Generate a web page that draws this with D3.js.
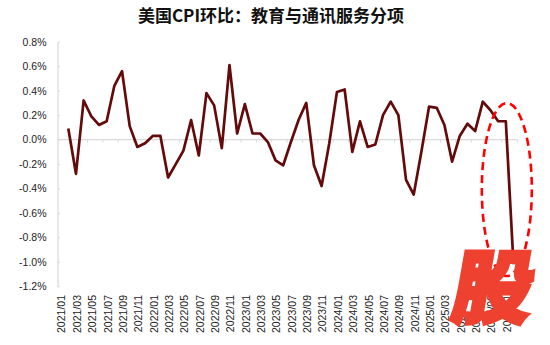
<!DOCTYPE html>
<html>
<head>
<meta charset="utf-8">
<script src="https://cdn.jsdelivr.net/npm/d3@7/dist/d3.min.js"></script>
<style>
  html, body { margin: 0; padding: 0; background: #fff; }
  svg { display: block; }
</style>
</head>
<body>
<svg id="chart" width="550" height="345"></svg>
<script>
// Monthly categories, 2021/01 – 2025/11
const months = [
  "2021/01","2021/02","2021/03","2021/04","2021/05","2021/06","2021/07","2021/08","2021/09","2021/10","2021/11","2021/12",
  "2022/01","2022/02","2022/03","2022/04","2022/05","2022/06","2022/07","2022/08","2022/09","2022/10","2022/11","2022/12",
  "2023/01","2023/02","2023/03","2023/04","2023/05","2023/06","2023/07","2023/08","2023/09","2023/10","2023/11","2023/12",
  "2024/01","2024/02","2024/03","2024/04","2024/05","2024/06","2024/07","2024/08","2024/09","2024/10","2024/11","2024/12",
  "2025/01","2025/02","2025/03","2025/04","2025/05","2025/06","2025/07","2025/08","2025/09","2025/10","2025/11"
];

// Education & communication services CPI, month-over-month change (%)
const momChange = [
   0.09, -0.28,  0.32,  0.19,  0.12,  0.15,  0.44,  0.56,  0.11, -0.06, -0.03,  0.03,
   0.03, -0.31, -0.20, -0.09,  0.16, -0.13,  0.38,  0.28, -0.07,  0.61,  0.05,  0.29,
   0.05,  0.05, -0.02, -0.17, -0.21, -0.02,  0.16,  0.30, -0.21, -0.38, -0.03,  0.39,
   0.41, -0.10,  0.15, -0.06, -0.04,  0.20,  0.31,  0.20, -0.33, -0.45, -0.10,  0.27,
   0.26,  0.12, -0.18,  0.03,  0.13,  0.07,  0.31,  0.24,  0.15,  0.15, -1.02
];

// Axis ticks
const yTicks = [0.8, 0.6, 0.4, 0.2, 0.0, -0.2, -0.4, -0.6, -0.8, -1.0, -1.2];
const xTickLabels = months.filter((m, i) => i % 2 === 0);

const titleText = "美国CPI环比：教育与通讯服务分项";
const badgeText = "股";

const svg = d3.select("#chart");
const latin = "'Liberation Sans', Arial, 'Noto Sans', sans-serif";
const cjk = "'Noto Sans CJK SC', 'Noto Sans', sans-serif";

const x = d3.scalePoint().domain(months).range([68.3, 513.5]);
const step = x.step();
const y = d3.scaleLinear().domain([-1.2, 0.8]).range([286.3, 41.8]);
const axisX = 57.5;

// Title
svg.append("text")
  .attr("x", 271).attr("y", 22)
  .attr("text-anchor", "middle")
  .attr("font-family", cjk)
  .attr("font-weight", "bold")
  .attr("font-size", 17)
  .attr("fill", "#111")
  .text(titleText);

// Y axis
const yAxis = d3.axisLeft(y)
  .tickValues(yTicks)
  .tickFormat(d => d.toFixed(1) + "%")
  .tickSizeInner(-2.5)
  .tickSizeOuter(0)
  .tickPadding(11);

const gy = svg.append("g")
  .attr("transform", `translate(${axisX},0)`)
  .call(yAxis);
gy.select(".domain").attr("stroke", "#d9d9d9").attr("stroke-width", 1.2);
gy.selectAll(".tick line").attr("stroke", "#d9d9d9").attr("stroke-width", 1);
gy.selectAll(".tick text")
  .attr("font-family", latin)
  .attr("font-size", 10.5)
  .attr("fill", "#222");

// Zero line with category ticks
const zeroY = y(0);
const xEnd = x(months[months.length - 1]) + step / 2;
svg.append("line")
  .attr("x1", axisX).attr("x2", xEnd)
  .attr("y1", zeroY).attr("y2", zeroY)
  .attr("stroke", "#d9d9d9").attr("stroke-width", 1.2);

svg.append("g").selectAll("line")
  .data(xTickLabels.slice(1))
  .join("line")
  .attr("x1", d => x(d) + step / 2)
  .attr("x2", d => x(d) + step / 2)
  .attr("y1", zeroY).attr("y2", zeroY + 3)
  .attr("stroke", "#d9d9d9").attr("stroke-width", 1);

// X labels, rotated, along the bottom
svg.append("g").selectAll("text")
  .data(xTickLabels)
  .join("text")
  .attr("transform", d => `translate(${x(d) - 6.5},295) rotate(-90)`)
  .attr("text-anchor", "end")
  .attr("dy", "0.35em")
  .attr("font-family", latin)
  .attr("font-size", 10.5)
  .attr("fill", "#222")
  .text(d => d);

// Series line
const line = d3.line()
  .x((d, i) => x(months[i]))
  .y(d => y(d));

svg.append("path")
  .datum(momChange)
  .attr("d", line)
  .attr("fill", "none")
  .attr("stroke", "#640a0a")
  .attr("stroke-width", 2.7)
  .attr("stroke-linejoin", "round");

// Highlight ring around the latest readings
const ringCx = (x(months[56]) + x(months[58])) / 2 + 1;
svg.append("ellipse")
  .attr("cx", ringCx)
  .attr("cy", 189.5)
  .attr("rx", 25)
  .attr("ry", 86.5)
  .attr("fill", "none")
  .attr("stroke", "#ff0000")
  .attr("stroke-width", 2.6)
  .attr("stroke-dasharray", "8,5");

// Badge
svg.append("g")
  .attr("transform", "translate(489,317) skewX(-10)")
  .append("text")
  .attr("text-anchor", "middle")
  .attr("font-family", cjk)
  .attr("font-weight", 900)
  .attr("font-size", 80)
  .attr("fill", "#ee4130")
  .attr("stroke", "#ee4130")
  .attr("stroke-width", 3.5)
  .attr("stroke-linejoin", "miter")
  .text(badgeText);
</script>
</body>
</html>
